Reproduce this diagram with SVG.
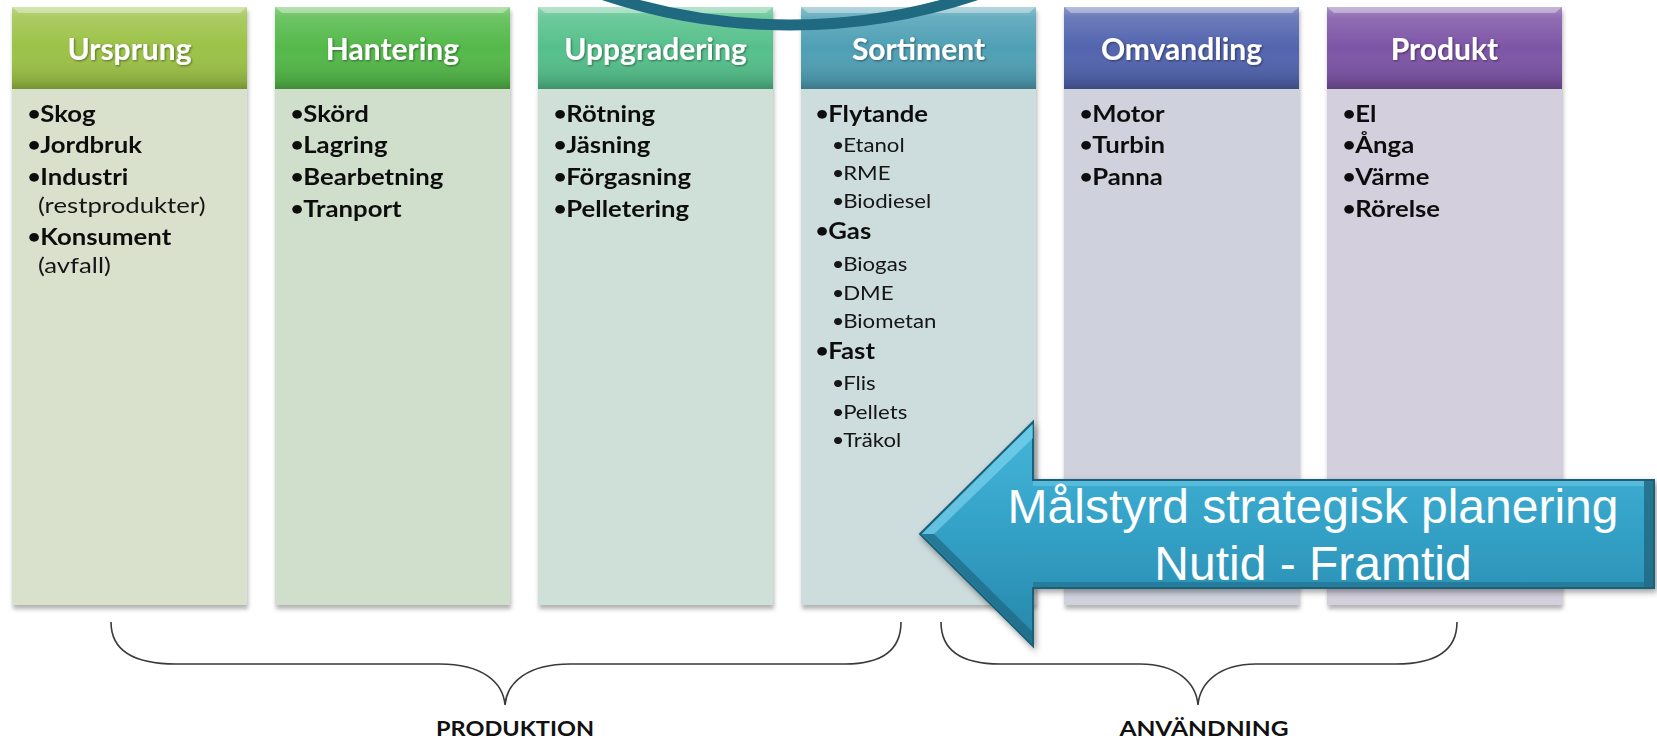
<svg xmlns="http://www.w3.org/2000/svg" width="1657" height="743" viewBox="0 0 1657 743">
<style>
  .ht{font-family:Lato,"Open Sans","Liberation Sans",sans-serif;font-weight:700;font-size:30px;fill:#ffffff;text-anchor:middle;filter:url(#tsh)}
  .b{font-family:Lato,"Open Sans","Liberation Sans",sans-serif;font-weight:700;font-size:22px;fill:#111111}
  .r{font-family:Lato,"Open Sans","Liberation Sans",sans-serif;font-weight:400;font-size:22px;fill:#151515}
  .s{font-family:Lato,"Open Sans","Liberation Sans",sans-serif;font-weight:400;font-size:19px;fill:#151515}
  .bu{font-size:18px;font-weight:900}
  .sbu{font-size:15px;font-weight:900}
  .lbl{font-family:Lato,"Open Sans","Liberation Sans",sans-serif;font-weight:700;font-size:21px;fill:#111111}
  .at{font-family:"Liberation Sans",Arial,sans-serif;font-size:48px;fill:#ffffff;text-anchor:middle}
  .gloss{fill:url(#gloss)}
  .bev{fill:#ffffff;fill-opacity:0.35}
  .brace{fill:none;stroke:#3a3a3a;stroke-width:1.6}
</style>
<defs>
  <linearGradient id="gloss" x1="0" y1="0" x2="0" y2="1">
    <stop offset="0" stop-color="#ffffff" stop-opacity="0.35"/>
    <stop offset="0.12" stop-color="#ffffff" stop-opacity="0.15"/>
    <stop offset="0.5" stop-color="#ffffff" stop-opacity="0"/>
    <stop offset="0.9" stop-color="#000000" stop-opacity="0.12"/>
    <stop offset="1" stop-color="#000000" stop-opacity="0.25"/>
  </linearGradient>
  <linearGradient id="arrowg" x1="0" y1="0" x2="0" y2="1">
    <stop offset="0" stop-color="#45b6da"/>
    <stop offset="0.5" stop-color="#33a0c5"/>
    <stop offset="1" stop-color="#2787ab"/>
  </linearGradient>
  <filter id="sh" x="-5%" y="-5%" width="112%" height="112%">
    <feDropShadow dx="1" dy="4" stdDeviation="2" flood-color="#000000" flood-opacity="0.3"/>
  </filter>
  <filter id="ash" x="-5%" y="-10%" width="112%" height="125%">
    <feDropShadow dx="2" dy="3" stdDeviation="3" flood-color="#000000" flood-opacity="0.4"/>
  </filter>
  <filter id="tsh" x="-10%" y="-20%" width="120%" height="150%">
    <feDropShadow dx="1" dy="1" stdDeviation="1" flood-color="#000000" flood-opacity="0.45"/>
  </filter>
</defs>
<rect x="0" y="0" width="1657" height="743" fill="#ffffff"/>

<g id="col-ursprung" filter="url(#sh)">
  <rect x="12" y="89" width="235" height="516" fill="#d9e0cb"/>
  <rect x="12" y="7" width="235" height="82" fill="#9cc247"/>
  <rect x="12" y="7" width="235" height="82" class="gloss"/>
  <polygon class="bev" points="12,7 247,7 240,13 19,13"/>
  <text class="ht" x="129.5" y="60">Ursprung</text>
  <g transform="translate(28,0) scale(1.17,1)">
    <text class="b" x="0" y="122"><tspan class="bu" dy="-2">•</tspan><tspan dy="2">Skog</tspan></text>
    <text class="b" x="0" y="153"><tspan class="bu" dy="-2">•</tspan><tspan dy="2">Jordbruk</tspan></text>
    <text class="b" x="0" y="185"><tspan class="bu" dy="-2">•</tspan><tspan dy="2">Industri</tspan></text>
    <text class="r" x="8.5" y="213">(restprodukter)</text>
    <text class="b" x="0" y="245"><tspan class="bu" dy="-2">•</tspan><tspan dy="2">Konsument</tspan></text>
    <text class="r" x="8.5" y="273">(avfall)</text>
  </g>
</g>

<g id="col-hantering" filter="url(#sh)">
  <rect x="275" y="89" width="235" height="516" fill="#cfdfcc"/>
  <rect x="275" y="7" width="235" height="82" fill="#54b94a"/>
  <rect x="275" y="7" width="235" height="82" class="gloss"/>
  <polygon class="bev" points="275,7 510,7 503,13 282,13"/>
  <text class="ht" x="392.5" y="60">Hantering</text>
  <g transform="translate(291,0) scale(1.17,1)">
    <text class="b" x="0" y="122"><tspan class="bu" dy="-2">•</tspan><tspan dy="2">Skörd</tspan></text>
    <text class="b" x="0" y="153"><tspan class="bu" dy="-2">•</tspan><tspan dy="2">Lagring</tspan></text>
    <text class="b" x="0" y="185"><tspan class="bu" dy="-2">•</tspan><tspan dy="2">Bearbetning</tspan></text>
    <text class="b" x="0" y="217"><tspan class="bu" dy="-2">•</tspan><tspan dy="2">Tranport</tspan></text>
  </g>
</g>

<g id="col-uppgradering" filter="url(#sh)">
  <rect x="538" y="89" width="235" height="516" fill="#cfe0d8"/>
  <rect x="538" y="7" width="235" height="82" fill="#55c08b"/>
  <rect x="538" y="7" width="235" height="82" class="gloss"/>
  <polygon class="bev" points="538,7 773,7 766,13 545,13"/>
  <text class="ht" x="655.5" y="60">Uppgradering</text>
  <g transform="translate(554,0) scale(1.17,1)">
    <text class="b" x="0" y="122"><tspan class="bu" dy="-2">•</tspan><tspan dy="2">Rötning</tspan></text>
    <text class="b" x="0" y="153"><tspan class="bu" dy="-2">•</tspan><tspan dy="2">Jäsning</tspan></text>
    <text class="b" x="0" y="185"><tspan class="bu" dy="-2">•</tspan><tspan dy="2">Förgasning</tspan></text>
    <text class="b" x="0" y="217"><tspan class="bu" dy="-2">•</tspan><tspan dy="2">Pelletering</tspan></text>
  </g>
</g>

<g id="col-sortiment" filter="url(#sh)">
  <rect x="801" y="89" width="235" height="516" fill="#cddcdd"/>
  <rect x="801" y="7" width="235" height="82" fill="#4fa0b5"/>
  <rect x="801" y="7" width="235" height="82" class="gloss"/>
  <polygon class="bev" points="801,7 1036,7 1029,13 808,13"/>
  <text class="ht" x="918.5" y="60">Sortiment</text>
  <g transform="translate(816,0) scale(1.17,1)">
    <text class="b" x="0" y="122"><tspan class="bu" dy="-2">•</tspan><tspan dy="2">Flytande</tspan></text>
    <text class="s" x="14.5" y="152"><tspan class="sbu" dy="-2">•</tspan><tspan dy="2">Etanol</tspan></text>
    <text class="s" x="14.5" y="180"><tspan class="sbu" dy="-2">•</tspan><tspan dy="2">RME</tspan></text>
    <text class="s" x="14.5" y="208"><tspan class="sbu" dy="-2">•</tspan><tspan dy="2">Biodiesel</tspan></text>
    <text class="b" x="0" y="239"><tspan class="bu" dy="-2">•</tspan><tspan dy="2">Gas</tspan></text>
    <text class="s" x="14.5" y="271"><tspan class="sbu" dy="-2">•</tspan><tspan dy="2">Biogas</tspan></text>
    <text class="s" x="14.5" y="300"><tspan class="sbu" dy="-2">•</tspan><tspan dy="2">DME</tspan></text>
    <text class="s" x="14.5" y="328"><tspan class="sbu" dy="-2">•</tspan><tspan dy="2">Biometan</tspan></text>
    <text class="b" x="0" y="359"><tspan class="bu" dy="-2">•</tspan><tspan dy="2">Fast</tspan></text>
    <text class="s" x="14.5" y="390"><tspan class="sbu" dy="-2">•</tspan><tspan dy="2">Flis</tspan></text>
    <text class="s" x="14.5" y="419"><tspan class="sbu" dy="-2">•</tspan><tspan dy="2">Pellets</tspan></text>
    <text class="s" x="14.5" y="447"><tspan class="sbu" dy="-2">•</tspan><tspan dy="2">Träkol</tspan></text>
  </g>
</g>

<g id="col-omvandling" filter="url(#sh)">
  <rect x="1064" y="89" width="235" height="516" fill="#cfd2dd"/>
  <rect x="1064" y="7" width="235" height="82" fill="#5264ae"/>
  <rect x="1064" y="7" width="235" height="82" class="gloss"/>
  <polygon class="bev" points="1064,7 1299,7 1292,13 1071,13"/>
  <text class="ht" x="1181.5" y="60">Omvandling</text>
  <g transform="translate(1080,0) scale(1.17,1)">
    <text class="b" x="0" y="122"><tspan class="bu" dy="-2">•</tspan><tspan dy="2">Motor</tspan></text>
    <text class="b" x="0" y="153"><tspan class="bu" dy="-2">•</tspan><tspan dy="2">Turbin</tspan></text>
    <text class="b" x="0" y="185"><tspan class="bu" dy="-2">•</tspan><tspan dy="2">Panna</tspan></text>
  </g>
</g>

<g id="col-produkt" filter="url(#sh)">
  <rect x="1327" y="89" width="235" height="516" fill="#d3cfdd"/>
  <rect x="1327" y="7" width="235" height="82" fill="#7d55a6"/>
  <rect x="1327" y="7" width="235" height="82" class="gloss"/>
  <polygon class="bev" points="1327,7 1562,7 1555,13 1334,13"/>
  <text class="ht" x="1444.5" y="60">Produkt</text>
  <g transform="translate(1343,0) scale(1.17,1)">
    <text class="b" x="0" y="122"><tspan class="bu" dy="-2">•</tspan><tspan dy="2">El</tspan></text>
    <text class="b" x="0" y="153"><tspan class="bu" dy="-2">•</tspan><tspan dy="2">Ånga</tspan></text>
    <text class="b" x="0" y="185"><tspan class="bu" dy="-2">•</tspan><tspan dy="2">Värme</tspan></text>
    <text class="b" x="0" y="217"><tspan class="bu" dy="-2">•</tspan><tspan dy="2">Rörelse</tspan></text>
  </g>
</g>

<g id="arc">
  <circle cx="790" cy="-565.5" r="590.5" fill="none" stroke="#1f6a80" stroke-width="11"/>
</g>

<g id="connectors">
  <path class="brace" d="M111,622 C111,650 132,664 176,664 L440,664 C482,664 503,682 505,705 C507,682 528,664 570,664 L845,664 C882,664 901,650 901,622"/>
  <path class="brace" d="M941,622 C941,650 960,664 1000,664 L1140,664 C1176,664 1196,682 1198,705 C1200,682 1220,664 1256,664 L1396,664 C1436,664 1457,650 1457,622"/>
</g>

<g id="label-produktion">
  <text class="lbl" transform="translate(515,736) scale(1.12,1)" text-anchor="middle">PRODUKTION</text>
</g>
<g id="label-anvandning">
  <text class="lbl" transform="translate(1204,736) scale(1.17,1)" text-anchor="middle">ANVÄNDNING</text>
</g>

<g id="arrow">
  <g filter="url(#ash)">
    <polygon points="920,534 1033,422 1033,480 1654,480 1654,588 1033,588 1033,646" fill="url(#arrowg)" stroke="#1d5f76" stroke-width="2" stroke-linejoin="miter"/>
  </g>
  <polygon points="922,534 1033,424 1033,438 934,534" fill="#8bdcf5" fill-opacity="0.55"/>
  <polygon points="922,534 934,534 1033,632 1033,644" fill="#1a6079" fill-opacity="0.6"/>
  <rect x="1644" y="481" width="9" height="106" fill="#1d5f76" fill-opacity="0.7"/>
  <rect x="1033" y="481" width="611" height="5" fill="#8bdcf5" fill-opacity="0.35"/>
  <rect x="1033" y="582" width="611" height="5" fill="#1a6079" fill-opacity="0.45"/>
  <text class="at" x="1313" y="523">Målstyrd strategisk planering</text>
  <text class="at" x="1313" y="580">Nutid - Framtid</text>
</g>
</svg>
